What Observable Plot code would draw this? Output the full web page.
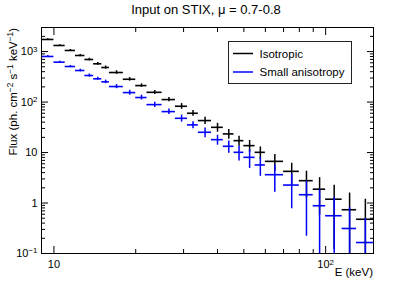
<!DOCTYPE html>
<html><head><meta charset="utf-8">
<script src="https://cdn.jsdelivr.net/npm/d3@7"></script>
<script src="https://cdn.jsdelivr.net/npm/@observablehq/plot@0.6"></script>
<style>
body{margin:0;background:#fff}
svg{font-family:"Liberation Sans",Arial,Helvetica,sans-serif}
</style>
</head><body><div id="chart"></div>
<script>
// Energy bin edges (keV)
const binEdges = [9,10,11,12,13,14,15,16,18,20,22,25,28,31,34,38,42,46,50,55,60,70,80,90,100,115,130,150];
// Isotropic flux and errors
const isoFlux = [1738,1321,1052,837,697,573,484,385,283,212,156,112,82.6,60,43,31.6,23.4,17.2,13.7,10.1,6.69,4.24,2.77,1.88,1.19,0.736,0.477];
const isoErr  = [52,53,47,42,42,34,34,31,23,17,14,11,10.7,7.8,6.9,6.3,5.1,3.8,3.6,2.8,2.5,1.9,1.5,1.3,1.07,0.84,0.71];
// Small anisotropy flux and errors
const anisoFlux = [800,617,506,422,336,289,252,203,154,123,89,64.7,47.7,35.3,25.2,18.0,13.3,10.1,8.04,5.68,3.64,2.27,1.46,0.883,0.56,0.313,0.165];
const anisoErr  = [32,28,25,25,24,20,20,19,17,13.5,10.7,7.8,7.6,5.6,5.5,4,3.6,3.3,3.2,2.3,2.0,1.5,1.24,0.97,0.73,0.5,0.33];

const seriesNames = ["Isotropic","Small anisotropy"];
const seriesColors = ["#000000","#0000ff"];

const xMajorTicks = [10,100];
const xMajorLabels = ["10","10^2"];
const xMinorTicks = [20,30,40,50,60,70,80,90];
const yMajorTicks = [0.1,1,10,100,1000];
const yMajorLabels = ["10^-1","1","10","10^2","10^3"];
const yMinorTicks = [0.2,0.3,0.4,0.5,0.6,0.7,0.8,0.9,2,3,4,5,6,7,8,9,20,30,40,50,60,70,80,90,200,300,400,500,600,700,800,900,2000];

const titleText = "Input on STIX, \u03bc = 0.7-0.8";
const xTitle = "E (keV)";

function rows(flux, err, name){
  return flux.map((v,i)=>({
    lo: binEdges[i], hi: binEdges[i+1], mid: (binEdges[i]+binEdges[i+1])/2,
    v, y1: Math.max(v-err[i], 0.01), y2: v+err[i], name
  }));
}
const data = [...rows(isoFlux, isoErr, seriesNames[0]), ...rows(anisoFlux, anisoErr, seriesNames[1])];

const xLab = new Map(xMajorTicks.map((t,i)=>[t,xMajorLabels[i]]));
const yLab = new Map(yMajorTicks.map((t,i)=>[t,yMajorLabels[i]]));
const blank = () => "";

const plot = Plot.plot({
  width: 415, height: 281,
  marginLeft: 41, marginRight: 42, marginTop: 27, marginBottom: 28,
  style: {fontFamily: '"Liberation Sans",Arial,sans-serif', fontSize: "11px", background: "#fff", color: "#000"},
  x: {type: "log", domain: [9,150]},
  y: {type: "log", domain: [0.1,3000]},
  color: {domain: seriesNames, range: seriesColors},
  marks: [
    // labels
    Plot.axisX(xMajorTicks, {anchor: "bottom", tickSize: 0, tickPadding: 7, tickFormat: d => xLab.get(d), label: null, fontSize: 11, fill: "#000"}),
    Plot.axisY(yMajorTicks, {anchor: "left", tickSize: 0, tickPadding: 4, tickFormat: d => yLab.get(d), label: null, fontSize: 11, fill: "#000"}),
    // inward ticks, four sides
    Plot.axisX(xMajorTicks, {anchor: "bottom", tickSize: -7, tickFormat: blank, label: null, stroke: "#000"}),
    Plot.axisX(xMinorTicks, {anchor: "bottom", tickSize: -4, tickFormat: blank, label: null, stroke: "#000"}),
    Plot.axisX(xMajorTicks, {anchor: "top", tickSize: -7, tickFormat: blank, label: null, stroke: "#000"}),
    Plot.axisX(xMinorTicks, {anchor: "top", tickSize: -4, tickFormat: blank, label: null, stroke: "#000"}),
    Plot.axisY(yMajorTicks, {anchor: "left", tickSize: -7, tickFormat: blank, label: null, stroke: "#000"}),
    Plot.axisY(yMinorTicks, {anchor: "left", tickSize: -4, tickFormat: blank, label: null, stroke: "#000"}),
    Plot.axisY(yMajorTicks, {anchor: "right", tickSize: -7, tickFormat: blank, label: null, stroke: "#000"}),
    Plot.axisY(yMinorTicks, {anchor: "right", tickSize: -4, tickFormat: blank, label: null, stroke: "#000"}),
    // data: horizontal bin-width bars and vertical error bars
    Plot.ruleY(data, {x1: "lo", x2: "hi", y: "v", stroke: "name", strokeWidth: 1.6, clip: true}),
    Plot.ruleX(data, {x: "mid", y1: "y1", y2: "y2", stroke: "name", strokeWidth: 1.5, clip: true}),
    Plot.frame({stroke: "#000", strokeWidth: 1})
  ]
});
document.getElementById("chart").appendChild(plot);

const svg = d3.select(plot);
// superscripts in tick labels
svg.selectAll("text").each(function(){
  const t = d3.select(this);
  if (t.selectAll("tspan").size() > 0) return;
  const s = t.text();
  if (s.includes("^")) {
    const [base, exp] = s.split("^");
    t.text(base);
    t.append("tspan").attr("dy", "-0.45em").attr("font-size", "0.72em").text(exp.replace("-", "\u2212"));
  }
});

// Title
svg.append("text").attr("x", 206).attr("y", 13.5).attr("text-anchor", "middle")
  .attr("font-size", 13).attr("fill", "#000").text(titleText);

// X title
svg.append("text").attr("x", 373).attr("y", 276).attr("text-anchor", "end")
  .attr("font-size", 11.5).attr("fill", "#000").text(xTitle);

// Y title with superscripts
const yt = svg.append("text").attr("transform", "translate(16.5,28) rotate(-90)")
  .attr("text-anchor", "end").attr("font-size", 11.5).attr("fill", "#000");
const yParts = [["Flux (ph. cm",0],["\u22122",1],[" s",0],["\u22121",1],[" keV",0],["\u22121",1],[")",0]];
let up = false;
yParts.forEach(([s, sup]) => {
  const ts = yt.append("tspan").attr("fill", "#000").text(s);
  if (sup && !up) { ts.attr("dy", "-0.45em").attr("font-size", "0.72em"); up = true; }
  else if (!sup && up) { ts.attr("dy", "0.33em"); up = false; }
  else if (sup) ts.attr("font-size", "0.72em");
});

// Legend
const lg = svg.append("g");
lg.append("rect").attr("x", 228.5).attr("y", 41.5).attr("width", 123).attr("height", 42)
  .attr("fill", "#fff").attr("stroke", "#222").attr("stroke-width", 1);
const legendY = [53.5, 72];
seriesNames.forEach((n, i) => {
  lg.append("line").attr("x1", 233).attr("x2", 253).attr("y1", legendY[i]).attr("y2", legendY[i])
    .attr("stroke", seriesColors[i]).attr("stroke-width", 1.5);
  lg.append("text").attr("x", 259.5).attr("y", legendY[i] + 4).attr("font-size", 11.5)
    .attr("text-anchor", "start").attr("fill", "#000").text(n);
});
</script>
</body></html>
